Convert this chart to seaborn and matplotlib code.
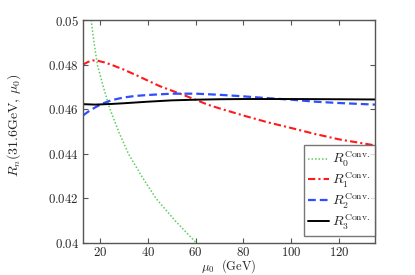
import matplotlib
matplotlib.use("Agg")
import matplotlib.pyplot as plt
import seaborn as sns
import pandas as pd

# ---- data ----
mu_R0 = [15, 16.4, 17.6, 19.0, 21.5, 24.3, 28, 32, 37.5, 43.5, 51.5, 60.4, 66]
R0 = [0.0512, 0.0500, 0.0490, 0.0480, 0.0470, 0.0460, 0.04497, 0.0440,
      0.0430, 0.0420, 0.0410, 0.0400, 0.0395]

mu_R1 = [13, 15, 17, 19, 22, 25, 30, 35, 40, 45, 50, 55, 60, 65, 70, 80, 90,
         100, 110, 120, 135]
R1 = [0.04800, 0.04812, 0.04819, 0.04818, 0.04810, 0.04799, 0.04778, 0.04754,
      0.04729, 0.04704, 0.04684, 0.04664, 0.04643, 0.04621, 0.04604, 0.04572,
      0.04542, 0.04516, 0.04489, 0.04465, 0.04438]

mu_R2 = [13, 15, 18, 21, 25, 30, 35, 40, 50, 60, 70, 80, 90, 100, 110, 120, 135]
R2 = [0.04572, 0.04588, 0.04608, 0.04625, 0.04641, 0.04653, 0.04660, 0.04664,
      0.04670, 0.04670, 0.04665, 0.04658, 0.04650, 0.04643, 0.04634, 0.04628,
      0.04621]

mu_R3 = [13, 18, 25, 30, 40, 50, 60, 70, 80, 100, 120, 135]
R3 = [0.04623, 0.04621, 0.04624, 0.04627, 0.04634, 0.04640, 0.04643, 0.04645,
      0.04646, 0.04646, 0.04645, 0.04644]

series_labels = [r"$R_0^{\rm Conv.}$", r"$R_1^{\rm Conv.}$",
                 r"$R_2^{\rm Conv.}$", r"$R_3^{\rm Conv.}$"]

xticks = [20, 40, 60, 80, 100, 120]
yticks = [0.04, 0.042, 0.044, 0.046, 0.048, 0.05]
ytick_labels = ["0.04", "0.042", "0.044", "0.046", "0.048", "0.05"]

xlabel = r"$\mu_0\ \ ({\rm GeV})$"
ylabel = r"$R_n(31.6{\rm GeV},\,\mu_0)$"

# ---- style ----
sns.set_style("ticks")
plt.rcParams["mathtext.fontset"] = "cm"
plt.rcParams["font.family"] = ["DejaVu Serif"]

fig = plt.figure(figsize=(4.15, 2.75), dpi=100)
ax = fig.add_axes([0.200, 0.116, 0.704, 0.811])

green = "#5ccc5c"
red = "#ff1a1a"
blue = "#2f4fff"

sns.lineplot(x=mu_R0, y=R0, ax=ax, color=green, lw=1.1, label=series_labels[0],
             linestyle=(0, (1, 1.3)))
sns.lineplot(x=mu_R1, y=R1, ax=ax, color=red, lw=1.5, label=series_labels[1],
             linestyle=(0, (3.5, 1.5, 1, 1.5)))
sns.lineplot(x=mu_R2, y=R2, ax=ax, color=blue, lw=1.6, label=series_labels[2],
             linestyle=(0, (3.5, 1.8)))
sns.lineplot(x=mu_R3, y=R3, ax=ax, color="black", lw=1.4, label=series_labels[3])

ax.set_xlim(13, 135)
ax.set_ylim(0.04, 0.05)
ax.set_xticks(xticks)
ax.set_xticklabels([f"${t}$" for t in xticks])
ax.set_yticks(yticks)
ax.set_yticklabels([f"${t}$" for t in ytick_labels])

ax.tick_params(direction="in", top=True, right=True, length=3.5, width=0.8,
               color="#555555", labelsize=9.2, pad=3)
ax.tick_params(axis="x", pad=2)
for sp in ax.spines.values():
    sp.set_color("#555555")
    sp.set_linewidth(1.0)

ax.set_xlabel(xlabel, fontsize=9)
ax.xaxis.set_label_coords(0.5, -0.064)
ax.set_ylabel(ylabel, fontsize=10)
ax.yaxis.set_label_coords(-0.205, 0.53)

leg = ax.legend(loc="lower right", bbox_to_anchor=(1.0, 0.03),
                borderaxespad=0, fancybox=False, frameon=True, fontsize=10,
                handlelength=1.45, handletextpad=0.25, labelspacing=0.12,
                borderpad=0.35)
leg.get_frame().set_edgecolor("#555555")
leg.get_frame().set_linewidth(1.0)

fig.savefig("out.png", dpi=100)
